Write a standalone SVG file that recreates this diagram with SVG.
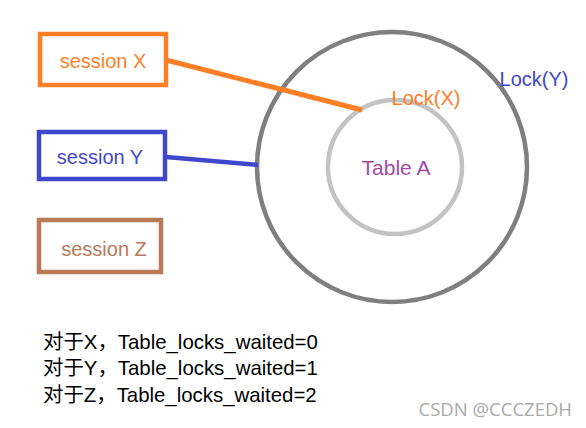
<svg xmlns="http://www.w3.org/2000/svg" width="586" height="428" viewBox="0 0 586 428">
<style>
text{font-family:"Liberation Sans",Arial,"Noto Sans CJK SC",sans-serif;}
.box{fill:#fff;stroke-width:4.5;}
.lbl{font-size:20px;text-anchor:middle;}
.note{font-size:20.4px;fill:#000;}
</style>
<rect width="586" height="428" fill="#fff"/>
<g id="table">
<circle cx="392" cy="167" r="135" fill="none" stroke="#7f7f7f" stroke-width="4.5"/>
<circle cx="395" cy="167" r="67" fill="none" stroke="#c3c3c3" stroke-width="4.5"/>
<text x="396" y="175" class="lbl" fill="#a349a4" style="font-size:21px">Table A</text>
<text x="426" y="105" class="lbl" fill="#ff7f27">Lock(X)</text>
<text x="534" y="86" class="lbl" fill="#3f48cc">Lock(Y)</text>
</g>
<g id="connectors">
<line x1="166" y1="60" x2="362" y2="110" stroke="#ff7f27" stroke-width="5"/>
<line x1="166" y1="157" x2="258" y2="165" stroke="#3f48cc" stroke-width="4.5"/>
</g>
<g id="sessionX">
<rect x="40" y="34" width="126" height="51" class="box" stroke="#ff7f27"/>
<text x="103" y="68" class="lbl" fill="#ff7f27">session X</text>
</g>
<g id="sessionY">
<rect x="39" y="132" width="126" height="47" class="box" stroke="#3f48cc"/>
<text x="100" y="164" class="lbl" fill="#3f48cc">session Y</text>
</g>
<g id="sessionZ">
<rect x="39" y="220" width="122" height="52" class="box" stroke="#b97a57"/>
<text x="104" y="256" class="lbl" fill="#b97a57">session Z</text>
</g>
<g id="notes">
<text x="43" y="349" class="note">对于X，Table_locks_waited=0</text>
<text x="43" y="375" class="note">对于Y，Table_locks_waited=1</text>
<text x="43" y="402" class="note">对于Z，Table_locks_waited=2</text>
</g>
<text x="572" y="416" font-size="18.5" fill="#aaa" text-anchor="end" style="font-family:'Open Sans','Noto Sans',sans-serif">CSDN @CCCZEDH</text>
</svg>
